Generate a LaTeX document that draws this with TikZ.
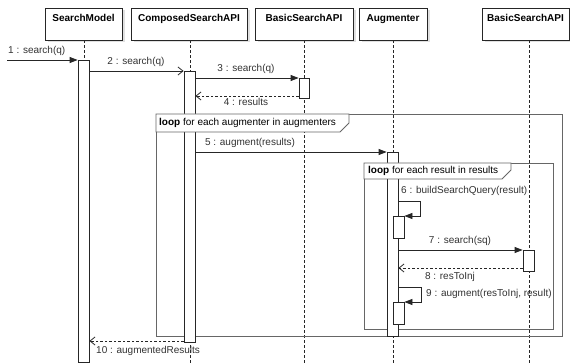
\documentclass[tikz,border=0pt]{standalone}
\usepackage{fontspec}
\setmainfont{Liberation Sans}
\usetikzlibrary{arrows.meta,calc,shadows}
\newcommand{\hd}[1]{\raisebox{5pt}[0.75em][0.2em]{#1}}
\begin{document}
\begin{tikzpicture}[x=1pt,y=-1pt,
  font=\fontsize{10}{12}\selectfont,
  head/.style={draw=black!85, fill=white, line width=0.8pt, minimum height=32pt, inner sep=0pt,
    font=\fontsize{10}{12}\selectfont\bfseries,
    drop shadow={shadow xshift=2.5pt, shadow yshift=-2.5pt, fill=black!12, opacity=1}},
  life/.style={draw=black!85, line width=0.7pt, dash pattern=on 2.5pt off 2.5pt},
  act/.style={draw=black!85, fill=white, line width=0.8pt, minimum width=11pt, inner sep=0pt, anchor=north},
  frameline/.style={draw=black!60, line width=0.9pt},
  tabshape/.style={draw=black!60, fill=white, line width=0.9pt},
  call/.style={draw=black!85, line width=0.8pt, -{Triangle[length=8pt,width=6pt]}},
  async/.style={draw=black!85, line width=0.8pt, -{Straight Barb[length=5pt,width=8pt]}},
  ret/.style={draw=black!85, line width=0.8pt, dash pattern=on 2.5pt off 2pt, -{Straight Barb[length=5pt,width=8pt]}},
  lbl/.style={text=black!80, inner sep=0pt}
]
\useasboundingbox (0,0) rectangle (570,363);
\fill[white] (0,0) rectangle (570,363);

% heads
\node[head, minimum width=77pt] (sm) at (83.5,24) {\hd{SearchModel}};
\node[head, minimum width=116pt] (cs) at (189,24) {\hd{ComposedSearchAPI}};
\node[head, minimum width=98pt] (b1) at (304,24) {\hd{BasicSearchAPI}};
\node[head, minimum width=68pt] (au) at (393,24) {\hd{Augmenter}};
\node[head, minimum width=87pt] (b2) at (525.5,24) {\hd{BasicSearchAPI}};

% lifeline ends
\coordinate (smEnd) at (84,363);
\coordinate (csEnd) at (190,363);
\coordinate (b1End) at (304,363);
\coordinate (auEnd) at (393,363);
\coordinate (b2End) at (529,363);
\draw[life] (sm.south -| smEnd) -- (smEnd);
\draw[life] (cs.south -| csEnd) -- (csEnd);
\draw[life] (b1.south -| b1End) -- (b1End);
\draw[life] (au.south -| auEnd) -- (auEnd);
\draw[life] (b2.south -| b2End) -- (b2End);

% loop frames
\node[frameline, minimum width=406pt, minimum height=222pt, inner sep=0pt, anchor=north west] (outer) at (156,114) {};
\node[frameline, minimum width=189pt, minimum height=166pt, inner sep=0pt, anchor=north west] (inner) at (364,163) {};

% activations
\node[act, minimum height=302pt] (smA) at (83.5,60) {};
\node[act, minimum height=271pt] (csA) at (189.5,71) {};
\node[act, minimum height=20pt, minimum width=10pt] (b1A) at (304,78) {};
\node[act, minimum height=184pt] (auA) at (392.5,152) {};
\node[act, minimum height=22pt] (n1A) at (398.5,216) {};
\node[act, minimum height=21pt] (b2A) at (528.5,250) {};
\node[act, minimum height=22pt] (n2A) at (398.5,302) {};

% loop tabs
\draw[tabshape] (outer.north west) -- (349,114) -- (349,123) -- (340,132) -- (outer.north west |- 0,132) -- cycle;
\node[anchor=west, inner sep=0pt] (outertab) at (159,123) {\textbf{loop} for each augmenter in augmenters};
\draw[tabshape] (inner.north west) -- (511,163) -- (511,170) -- (502,179) -- (inner.north west |- 0,179) -- cycle;
\node[anchor=west, inner sep=0pt] (innertab) at (368,171) {\textbf{loop} for each result in results};

% messages
\coordinate (start) at (7,60);
\draw[call] (start) -- (smA.north west);
\node[lbl, anchor=south west] (l1) at (8,56) {1 : search(q)};

\draw[async] (smA.east |- 0,71) -- (csA.north west);
\node[lbl, anchor=south] (l2) at (136,67) {2 : search(q)};

\draw[call] (csA.east |- 0,78) -- (b1A.north west);
\node[lbl, anchor=south] (l3) at (246,74) {3 : search(q)};

\draw[ret] (b1A.west |- 0,96) -- (csA.east |- 0,96);
\node[lbl, anchor=north] (l4) at (246,98.5) {4 : results};

\draw[call] (csA.east |- 0,152) -- (auA.north west);
\node[lbl, anchor=south] (l5) at (250,147.5) {5 : augment(results)};

\draw[call] (auA.east |- 0,201) -- (420,201) -- (420,216) -- (n1A.north east);
\node[lbl, anchor=south west] (l6) at (401,195.5) {6 : buildSearchQuery(result)};

\draw[call] (auA.east |- 0,250) -- (b2A.north west);
\node[lbl, anchor=south] (l7) at (460,246) {7 : search(sq)};

\draw[ret] (b2A.west |- 0,268) -- (auA.east |- 0,268);
\node[lbl, anchor=north] (l8) at (450,272) {8 : resToInj};

\draw[call] (auA.east |- 0,287) -- (421,287) -- (421,302) -- (n2A.north east);
\node[lbl, anchor=south west] (l9) at (426,298.5) {9 : augment(resToInj, result)};

\draw[ret] (csA.west |- 0,341) -- (smA.east |- 0,341);
\node[lbl, anchor=north west] (l10) at (96,346.5) {10 : augmentedResults};
\end{tikzpicture}
\end{document}
